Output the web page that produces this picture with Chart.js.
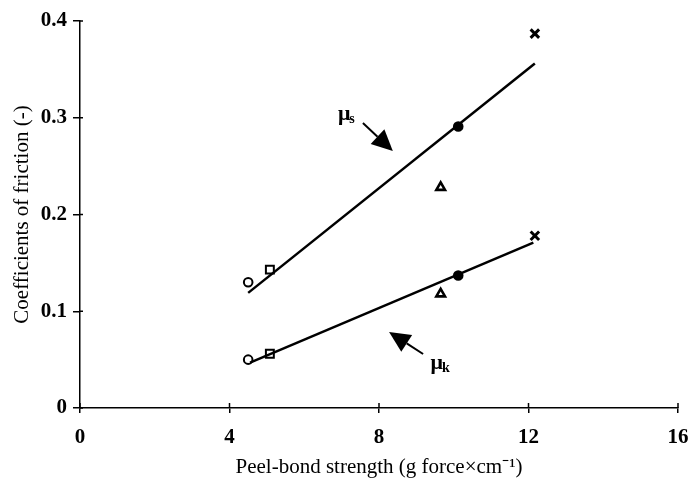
<!DOCTYPE html>
<html>
<head>
<meta charset="utf-8">
<script src="https://cdn.jsdelivr.net/npm/chart.js@4.4.1/dist/chart.umd.min.js"></script>
<style>
  html, body { margin: 0; padding: 0; background: #fff; }
</style>
</head>
<body>
<canvas id="chart" width="690" height="482"></canvas>
<script>
// values
const peelStrength = [4.5, 5.08, 9.65, 10.12, 12.17];
const muStatic = [0.130, 0.143, 0.228, 0.291, 0.387];
const muKinetic = [0.050, 0.056, 0.118, 0.137, 0.178];
const markerStyles = ['circle', 'rect', 'triangle', 'circle', 'crossRot'];
const markerFilled = [false, false, false, true, false];

// fitted lines (end points)
const staticFitX = [4.5, 12.17];
const staticFitY = [0.119, 0.356];
const kineticFitX = [4.55, 12.13];
const kineticFitY = [0.047, 0.171];

const xTicks = [0, 4, 8, 12, 16];
const yTicks = [0, 0.1, 0.2, 0.3, 0.4];

const serif = 'Liberation Serif, Times New Roman, serif';

// marker radius / border per point style
const markerRadius = { circle: 4.3, rect: 5.6, triangle: 5, crossRot: 6 };
const markerBorder = { circle: 2, rect: 2, triangle: 2.6, crossRot: 3 };

const datasets = [];

datasets.push({
    label: 'mu_s fit',
    data: staticFitX.map((x, i) => ({ x: x, y: staticFitY[i] })),
    showLine: true,
    borderColor: '#000',
    borderWidth: 2.5,
    pointRadius: 0
});
datasets.push({
    label: 'mu_k fit',
    data: kineticFitX.map((x, i) => ({ x: x, y: kineticFitY[i] })),
    showLine: true,
    borderColor: '#000',
    borderWidth: 2.5,
    pointRadius: 0
});

peelStrength.forEach((x, i) => {
    const style = markerStyles[i];
    datasets.push({
        label: 'sample ' + (i + 1),
        data: [{ x: x, y: muStatic[i] }, { x: x, y: muKinetic[i] }],
        showLine: false,
        pointStyle: style,
        pointRadius: markerRadius[style],
        borderColor: '#000',
        borderWidth: markerBorder[style],
        backgroundColor: markerFilled[i] ? '#000' : '#fff'
    });
});

function drawArrow(ctx, x1, y1, x2, y2) {
    const ang = Math.atan2(y2 - y1, x2 - x1);
    const headLen = 21, headHalf = 10;
    const bx = x2 - headLen * Math.cos(ang);
    const by = y2 - headLen * Math.sin(ang);
    ctx.beginPath();
    ctx.moveTo(x1, y1);
    ctx.lineTo(bx, by);
    ctx.lineWidth = 2;
    ctx.strokeStyle = '#000';
    ctx.stroke();
    ctx.beginPath();
    ctx.moveTo(x2, y2);
    ctx.lineTo(bx + headHalf * Math.sin(ang), by - headHalf * Math.cos(ang));
    ctx.lineTo(bx - headHalf * Math.sin(ang), by + headHalf * Math.cos(ang));
    ctx.closePath();
    ctx.fillStyle = '#000';
    ctx.fill();
}

function drawMu(ctx, x, y, sub) {
    ctx.fillStyle = '#000';
    ctx.textBaseline = 'alphabetic';
    ctx.textAlign = 'left';
    ctx.font = 'bold 22px ' + serif;
    ctx.fillText('\u03bc', x, y);
    const w = ctx.measureText('\u03bc').width;
    ctx.font = 'bold 14px ' + serif;
    ctx.fillText(sub, x + w - 1, y + 3);
}

const extras = {
    id: 'extras',
    afterDraw(chart) {
        const ctx = chart.ctx;
        const xs = chart.scales.x, ys = chart.scales.y;
        const area = chart.chartArea;
        ctx.save();
        // inner halves of the tick marks
        ctx.strokeStyle = '#000';
        ctx.lineWidth = 1.5;
        xTicks.forEach(v => {
            const px = xs.getPixelForValue(v);
            ctx.beginPath();
            ctx.moveTo(px, area.bottom);
            ctx.lineTo(px, area.bottom - 5);
            ctx.stroke();
        });
        yTicks.forEach(v => {
            const py = ys.getPixelForValue(v);
            ctx.beginPath();
            ctx.moveTo(area.left, py);
            ctx.lineTo(area.left + 3, py);
            ctx.stroke();
        });
        // curve labels with arrows
        drawMu(ctx, xs.getPixelForValue(6.9), ys.getPixelForValue(0.298), 's');
        drawArrow(ctx, xs.getPixelForValue(7.57), ys.getPixelForValue(0.2946),
                       xs.getPixelForValue(8.37), ys.getPixelForValue(0.2656));
        drawMu(ctx, xs.getPixelForValue(9.38), ys.getPixelForValue(0.040), 'k');
        drawArrow(ctx, xs.getPixelForValue(9.18), ys.getPixelForValue(0.0558),
                       xs.getPixelForValue(8.27), ys.getPixelForValue(0.0786));
        ctx.restore();
    }
};

new Chart(document.getElementById('chart'), {
    type: 'scatter',
    data: { datasets: datasets },
    plugins: [extras],
    options: {
        responsive: false,
        animation: false,
        devicePixelRatio: 1,
        layout: { padding: { top: 21, right: 12, left: 0, bottom: 0 } },
        plugins: {
            legend: { display: false },
            tooltip: { enabled: false }
        },
        scales: {
            x: {
                type: 'linear',
                min: 0,
                max: 16,
                afterBuildTicks: axis => { axis.ticks = xTicks.map(v => ({ value: v })); },
                afterFit: axis => {
                    axis.height = 74;
                    axis.paddingLeft = 0;
                    axis.paddingRight = 0;
                },
                grid: { drawOnChartArea: false, color: '#000', lineWidth: 1.5, tickLength: 5 },
                border: { color: '#000', width: 1.5 },
                ticks: {
                    color: '#000',
                    padding: 12,
                    font: { family: serif, size: 21, weight: 'bold' }
                },
                title: {
                    display: true,
                    text: 'Peel-bond strength (g force\u00d7cm\u207b\u00b9)',
                    color: '#000',
                    font: { family: serif, size: 21 },
                    padding: { top: 0, bottom: 2 }
                }
            },
            y: {
                type: 'linear',
                min: 0,
                max: 0.4,
                afterBuildTicks: axis => { axis.ticks = yTicks.map(v => ({ value: v })); },
                afterFit: axis => {
                    axis.width = 80;
                    axis.paddingTop = 0;
                    axis.paddingBottom = 0;
                },
                grid: { drawOnChartArea: false, color: '#000', lineWidth: 1.5, tickLength: 7 },
                border: { color: '#000', width: 1.5 },
                ticks: {
                    color: '#000',
                    padding: 6,
                    font: { family: serif, size: 21, weight: 'bold' },
                    callback: v => v === 0 ? '0' : v.toFixed(1)
                },
                title: {
                    display: true,
                    text: 'Coefficients of friction (-)',
                    color: '#000',
                    font: { family: serif, size: 21 },
                    padding: { top: 10, bottom: 0 }
                }
            }
        }
    }
});
</script>
</body>
</html>
